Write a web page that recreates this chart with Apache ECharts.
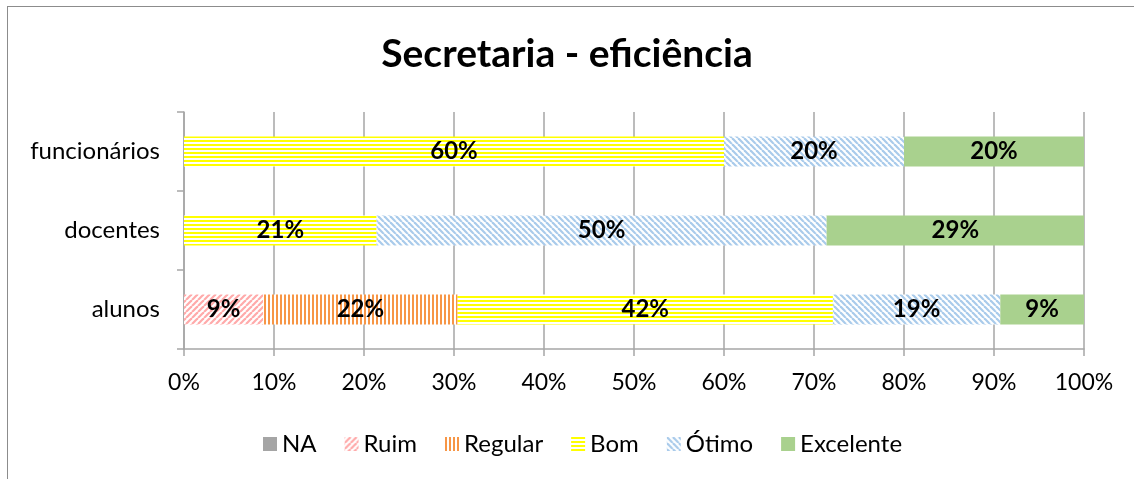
<!DOCTYPE html>
<html>
<head>
<meta charset="utf-8">
<script src="https://cdn.jsdelivr.net/npm/echarts@6/dist/echarts.min.js"></script>
<style>
  html, body { margin: 0; padding: 0; background: #fff; }
  #chart { width: 1134px; height: 479px; }
  .frame {
    position: absolute; left: 7px; top: 6px; width: 1127px; height: 473px;
    border-top: 1px solid #8c8c8c; border-left: 1px solid #8c8c8c;
    pointer-events: none;
  }
</style>
</head>
<body>
<div id="chart"></div>
<div class="frame"></div>
<script>
// dados (percentuais)
const categorias = ['alunos', 'docentes', 'funcionários']
const nomesSeries = ['NA', 'Ruim', 'Regular', 'Bom', 'Ótimo', 'Excelente']
const na        = [0, 0, 0]
const ruim      = [8.8, 0, 0]
const regular   = [21.6, 0, 0]
const bom       = [41.7, 21.4, 60]
const otimo     = [18.6, 50.0, 20]
const excelente = [9.3, 28.6, 20]
const ticksX = [0, 10, 20, 30, 40, 50, 60, 70, 80, 90, 100]

const fonte = 'Lato'

// padrões de preenchimento (estilo Excel)
function padrao(size, draw) {
  const c = document.createElement('canvas')
  c.width = size
  c.height = size
  const ctx = c.getContext('2d')
  ctx.fillStyle = '#fff'
  ctx.fillRect(0, 0, size, size)
  draw(ctx, size)
  return { image: c, repeat: 'repeat' }
}

const corRuim = padrao(6, (ctx, s) => {
  ctx.strokeStyle = '#ffaaaa'
  ctx.lineWidth = 2.2
  for (let k = -1; k <= 1; k++) {
    ctx.beginPath(); ctx.moveTo(k * s, s); ctx.lineTo(k * s + s, 0); ctx.stroke()
  }
})
const corRegular = padrao(4, (ctx) => {
  ctx.fillStyle = '#f79646'
  ctx.fillRect(0, 0, 2, 4)
})
const corBom = padrao(4, (ctx) => {
  ctx.fillStyle = '#ffff00'
  ctx.fillRect(0, 0, 4, 2)
})
const corOtimo = padrao(6, (ctx, s) => {
  ctx.strokeStyle = '#a9cbeb'
  ctx.lineWidth = 2.2
  for (let k = -1; k <= 1; k++) {
    ctx.beginPath(); ctx.moveTo(k * s, 0); ctx.lineTo(k * s + s, s); ctx.stroke()
  }
})

const cores = ['#a5a5a5', corRuim, corRegular, corBom, corOtimo, '#a9d18e']
const valores = [na, ruim, regular, bom, otimo, excelente]

const chart = echarts.init(document.getElementById('chart'))

const series = nomesSeries.map((nome, i) => ({
  name: nome,
  type: 'bar',
  stack: 'total',
  barWidth: 30,
  data: valores[i],
  itemStyle: { color: cores[i] },
  label: {
    show: true,
    position: 'inside',
    color: '#000',
    fontFamily: fonte,
    fontWeight: 'bold',
    fontSize: 24,
    formatter: p => p.value > 0 ? Math.round(p.value) + '%' : ''
  }
}))

chart.setOption({
  animation: false,
  title: {
    text: 'Secretaria - eficiência',
    left: 'center',
    top: 30,
    textStyle: { fontFamily: fonte, fontWeight: 'bold', fontSize: 39, color: '#000' }
  },
  legend: {
    data: nomesSeries,
    top: 427,
    left: 258,
    icon: 'rect',
    itemWidth: 14,
    itemHeight: 14,
    itemGap: 28,
    textStyle: { fontFamily: fonte, fontSize: 24, color: '#000' }
  },
  grid: { left: 184, right: 50, top: 112, bottom: 130 },
  xAxis: {
    type: 'value',
    min: ticksX[0],
    max: ticksX[ticksX.length - 1],
    interval: 10,
    axisLine: { show: true, lineStyle: { color: '#a6a6a6', width: 1.5 } },
    axisTick: { show: true, length: 7, lineStyle: { color: '#a6a6a6', width: 1.5 } },
    splitLine: { show: true, lineStyle: { color: '#a6a6a6', width: 1.5 } },
    axisLabel: {
      margin: 22,
      fontFamily: fonte,
      fontSize: 23,
      color: '#000',
      formatter: v => ticksX.includes(v) ? v + '%' : ''
    }
  },
  yAxis: {
    type: 'category',
    data: categorias,
    axisLine: { show: true, lineStyle: { color: '#a6a6a6', width: 1.5 } },
    axisTick: { show: true, length: 7, lineStyle: { color: '#a6a6a6', width: 1.5 } },
    axisLabel: { margin: 24, fontFamily: fonte, fontSize: 24, color: '#000' }
  },
  series: series
})
</script>
</body>
</html>
